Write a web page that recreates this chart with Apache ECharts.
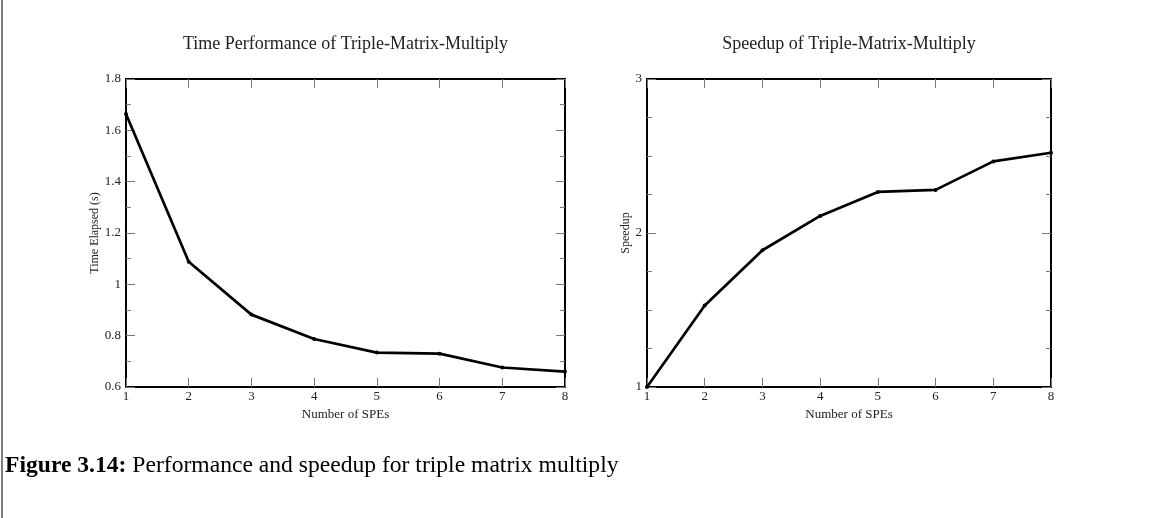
<!DOCTYPE html>
<html>
<head>
<meta charset="utf-8">
<title>Triple-Matrix-Multiply performance</title>
<script src="https://cdn.jsdelivr.net/npm/echarts@6/dist/echarts.min.js"></script>
<style>
  html, body { margin: 0; padding: 0; background: #fff; }
  #chart { width: 1149px; height: 518px; }
</style>
</head>
<body>
<div id="chart"></div>
<script>
// Number of SPEs used for each run
var spes = [1, 2, 3, 4, 5, 6, 7, 8];
// Wall-clock time for triple matrix multiply (seconds)
var timeElapsed = [1.664, 1.088, 0.882, 0.787, 0.734, 0.730, 0.676, 0.660];
// Speedup relative to a single SPE
var speedup = [1.0, 1.529, 1.888, 2.111, 2.267, 2.280, 2.465, 2.521];

var serif = '"Liberation Serif", "DejaVu Serif", serif';
var textColor = '#222';

function pairs(xs, ys) {
  return xs.map(function (x, i) { return [x, ys[i]]; });
}

function xAxes(gridIndex) {
  var base = {
    type: 'value', gridIndex: gridIndex, min: 1, max: 8, interval: 1,
    splitLine: { show: false },
    axisLine: { show: true, onZero: false, lineStyle: { color: '#000', width: 2 } },
    axisTick: { show: true, inside: true, length: 9, lineStyle: { color: '#777', width: 1 } }
  };
  return [
    Object.assign({}, base, {
      position: 'bottom',
      name: 'Number of SPEs', nameLocation: 'middle', nameGap: 15,
      nameTextStyle: { fontFamily: serif, fontSize: 13, color: textColor },
      axisLabel: { fontFamily: serif, fontSize: 13, color: textColor, margin: 3 }
    }),
    Object.assign({}, base, { position: 'top', axisLabel: { show: false } })
  ];
}

function yAxes(gridIndex, min, max, interval, minorSplit, name, nameGap) {
  var base = {
    type: 'value', gridIndex: gridIndex, min: min, max: max, interval: interval,
    splitLine: { show: false },
    axisLine: { show: true, onZero: false, lineStyle: { color: '#000', width: 2 } },
    axisTick: { show: true, inside: true, length: 9, lineStyle: { color: '#777', width: 1 } },
    minorTick: { show: true, splitNumber: minorSplit, length: 5, lineStyle: { color: '#777', width: 1 } }
  };
  return [
    Object.assign({}, base, {
      position: 'left',
      name: name, nameLocation: 'middle', nameGap: nameGap, nameRotate: 90,
      nameTextStyle: { fontFamily: serif, fontSize: 12, color: textColor },
      axisLabel: { fontFamily: serif, fontSize: 13, color: textColor, margin: 5 }
    }),
    Object.assign({}, base, { position: 'right', axisLabel: { show: false } })
  ];
}

var lineStyle = { color: '#000', width: 2.7 };

var option = {
  animation: false,
  backgroundColor: '#fff',
  grid: [
    { left: 126, top: 79, width: 439, height: 308 },
    { left: 647, top: 79, width: 404, height: 308 }
  ],
  xAxis: xAxes(0).concat(xAxes(1)),
  yAxis: yAxes(0, 0.6, 1.8, 0.2, 2, 'Time Elapsed (s)', 21)
    .concat(yAxes(1, 1, 3, 1, 4, 'Speedup', 12)),
  series: [
    {
      type: 'line', xAxisIndex: 0, yAxisIndex: 0,
      data: pairs(spes, timeElapsed),
      symbol: 'circle', symbolSize: 4, showAllSymbol: true,
      itemStyle: { color: '#000' }, lineStyle: lineStyle
    },
    {
      type: 'line', xAxisIndex: 2, yAxisIndex: 2,
      data: pairs(spes, speedup),
      symbol: 'circle', symbolSize: 4, showAllSymbol: true,
      itemStyle: { color: '#000' }, lineStyle: lineStyle
    }
  ],
  graphic: [
    {
      type: 'line', silent: true,
      shape: { x1: 2, y1: 0, x2: 2, y2: 518 },
      style: { stroke: '#555', lineWidth: 1.5 }
    },
    {
      type: 'text', x: 345.5, y: 44, silent: true,
      style: {
        text: 'Time Performance of Triple-Matrix-Multiply',
        fontFamily: serif, fontSize: 18, fill: textColor,
        align: 'center', verticalAlign: 'middle'
      }
    },
    {
      type: 'text', x: 849, y: 44, silent: true,
      style: {
        text: 'Speedup of Triple-Matrix-Multiply',
        fontFamily: serif, fontSize: 18, fill: textColor,
        align: 'center', verticalAlign: 'middle'
      }
    },
    {
      type: 'text', x: 5, y: 466, silent: true,
      style: {
        text: '{b|Figure 3.14:} Performance and speedup for triple matrix multiply',
        fontFamily: serif, fontSize: 23.6, fill: '#000',
        align: 'left', verticalAlign: 'middle',
        rich: {
          b: { fontFamily: serif, fontSize: 23.6, fontWeight: 'bold', fill: '#000' }
        }
      }
    }
  ]
};

var chart = echarts.init(document.getElementById('chart'), null, { renderer: 'canvas' });
chart.setOption(option);
</script>
</body>
</html>
